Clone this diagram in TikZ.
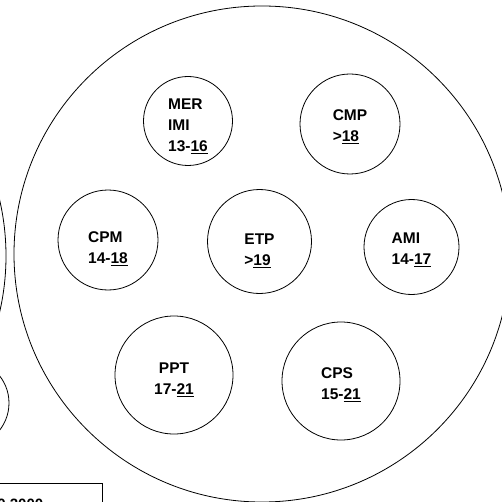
\documentclass[tikz,border=0pt]{standalone}
\usepackage{fontspec}
\setmainfont{Liberation Sans}
\begin{document}
\begin{tikzpicture}[x=1pt,y=-1pt,line width=0.8pt,
	zone/.style={circle,draw,inner sep=0pt,minimum size=#1},
	tag/.style={inner sep=0pt,font=\fontsize{15.5}{21}\selectfont\bfseries}]
		\useasboundingbox (0,0) rectangle (502,502);
		\clip (0,0) rectangle (502,502);
		\draw (262,254) circle [radius=248pt];
		\draw (-242,256) circle [radius=248pt];
		\draw (-35,403) circle [radius=44pt];
		\foreach \n/\x/\y/\d/\s/\a/\t in {mer/188/121/89pt/5/left/{MER\\IMI\\13-\underline{16}}, cmp/350/124/100pt/3/left/{CMP\\>\underline{18}}, cpm/108/240/100pt/9/left/{CPM\\14-\underline{18}}, etp/259.5/241.5/104pt/9/left/{ETP\\>\underline{19}}, ami/411.5/247/95pt/3/left/{AMI\\14-\underline{17}}, ppt/174/375/118pt/5/center/{PPT\\17-\underline{21}}, cps/341/381/118pt/4/left/{CPS\\15-\underline{21}}}{
			\node [zone=\d] (\n) at (\x,\y) {};
			\node [tag,align=\a] (\n-t) at ([yshift=-\s pt]\n.center) {\t};
			}
		\draw (-5,483) rectangle (102,520);
		\node [anchor=base west,inner sep=0pt,font=\fontsize{15}{18}\selectfont\bfseries] (year) at (-3,509) {0 2000};
	\end{tikzpicture}
\end{document}
